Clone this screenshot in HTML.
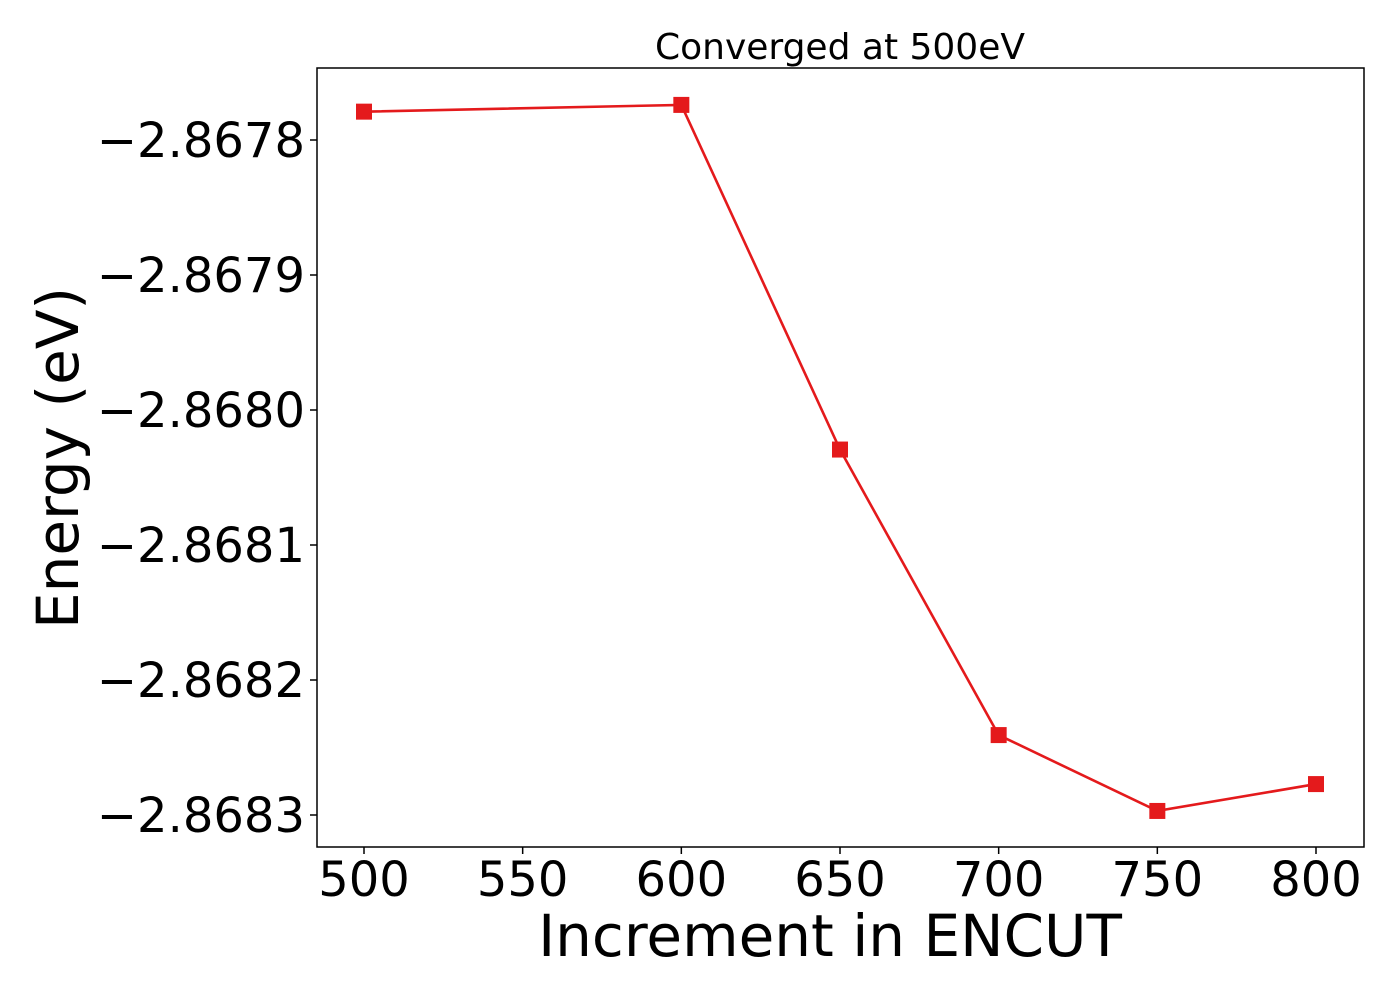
<!DOCTYPE html>
<html><head><meta charset="utf-8"><style>
body{margin:0;background:#fff;}
svg{display:block;font-family:"DejaVu Sans","Liberation Sans",sans-serif;}
</style></head><body>
<svg id="chart" width="1400" height="1000"></svg>
<script>
const xValues=[500,600,650,700,750,800];
const energies=[-2.867779,-2.867774,-2.8680293,-2.8682408,-2.868297,-2.8682771];
const xTicks=[500,550,600,650,700,750,800];
const yTicks=[-2.8678,-2.8679,-2.8680,-2.8681,-2.8682,-2.8683];
const yTickLabels=["\u22122.8678","\u22122.8679","\u22122.8680","\u22122.8681","\u22122.8682","\u22122.8683"];
const NS="http://www.w3.org/2000/svg";
const svg=document.getElementById('chart');
const L=317,R=1364,T=68,B=847;
const xs=v=>364+(v-500)*(1316-364)/300;
const ys=v=>140+(-2.8678-v)*(815-140)/0.0005;
function mk(tag,attrs,parent){const e=document.createElementNS(NS,tag);for(const k in attrs)e.setAttribute(k,attrs[k]);(parent||svg).appendChild(e);return e;}
const frame=mk('rect',{x:L,y:T,width:R-L,height:B-T,fill:'none',stroke:'#000','stroke-width':1.5});


xTicks.forEach(t=>{
  const l=mk('line',{x1:xs(t),x2:xs(t),y1:B,y2:B+7,stroke:'#000','stroke-width':1.5});
  
  
  const tx=mk('text',{x:xs(t),y:B+49,'text-anchor':'middle','font-size':48});
  tx.textContent=t;
  
  
});
yTicks.forEach((t,i)=>{
  const l=mk('line',{x1:L-7,x2:L,y1:ys(t),y2:ys(t),stroke:'#000','stroke-width':1.5});
  
  
  const tx=mk('text',{x:L-12,y:ys(t)+17,'text-anchor':'end','font-size':48});
  tx.textContent=yTickLabels[i];
  
  
});
const pts=xValues.map((x,i)=>xs(x)+','+ys(energies[i])).join(' ');
const line=mk('polyline',{points:pts,fill:'none',stroke:'#e41a1c','stroke-width':2.6});


xValues.forEach((x,i)=>{
  const m=mk('rect',{x:xs(x)-8,y:ys(energies[i])-8,width:16,height:16,fill:'#e41a1c'});
  
  
});
const title=mk('text',{x:840,y:59,'text-anchor':'middle','font-size':36});
title.textContent='Converged at 500eV';


const xl=mk('text',{x:830,y:956,'text-anchor':'middle','font-size':58});
xl.textContent='Increment in ENCUT';


const yl=mk('text',{x:0,y:0,'text-anchor':'middle','font-size':58,transform:'translate(78,458) rotate(-90)'});
yl.textContent='Energy (eV)';


</script>
</body></html>
